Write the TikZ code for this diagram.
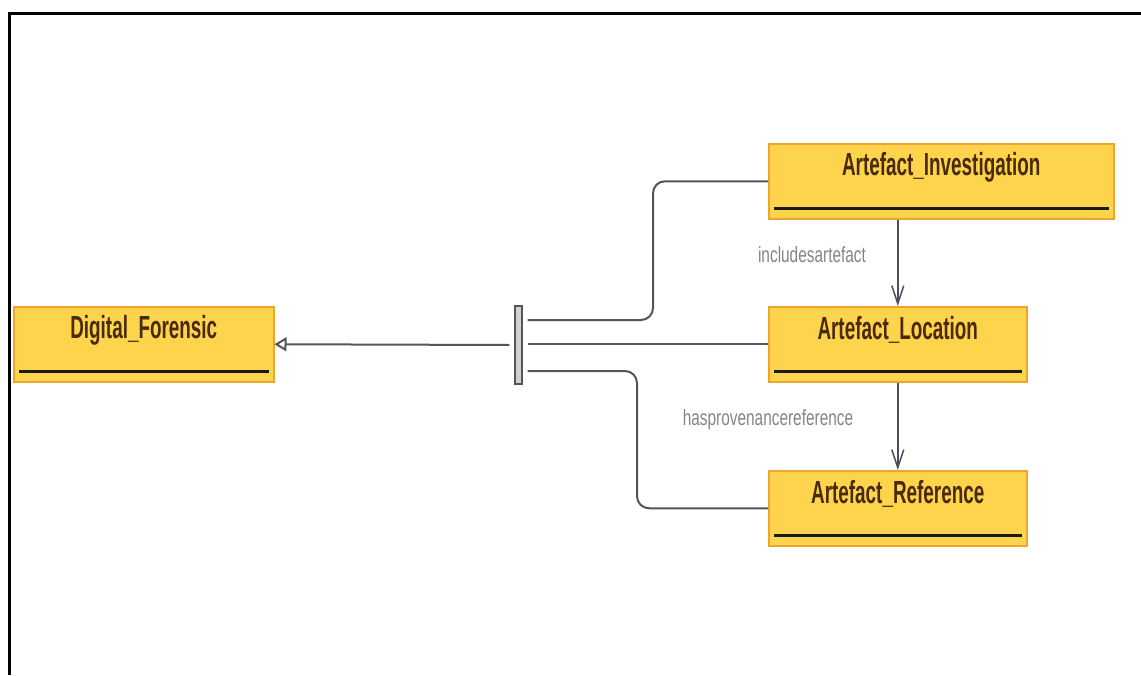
\documentclass[tikz,border=0pt]{standalone}
\usepackage{fontspec}
\usepackage{graphicx}
\setmainfont{Liberation Sans}
\usetikzlibrary{arrows.meta}
\definecolor{boxfill}{HTML}{FDD44C}
\definecolor{boxline}{HTML}{EFA52C}
\definecolor{boxtext}{HTML}{4A2A0C}
\definecolor{connc}{HTML}{555555}
\definecolor{assoc}{HTML}{4A4F5A}
\definecolor{lblc}{HTML}{858585}
\newcommand{\condtext}[2]{\scalebox{#1}[1]{#2}}
\tikzset{
  classbox/.style={draw=boxline, line width=1.5pt, fill=boxfill, minimum height=75pt, inner sep=0pt, anchor=north west},
  classname/.style={text=boxtext, font=\fontsize{32}{32}\selectfont\bfseries, inner sep=0pt, anchor=center},
  underl/.style={black!90, line width=3pt},
  conn/.style={connc, line width=2pt, rounded corners=12pt},
  assocline/.style={assoc, line width=1.5pt, -{Straight Barb[length=18pt,width=12pt]}},
  lbl/.style={text=lblc, font=\fontsize{22}{22}\selectfont, inner sep=0pt},
  forkbar/.style={draw=connc, fill=black!18, line width=1.2pt, minimum width=7pt, minimum height=78pt, inner sep=0pt}
}
\begin{document}
\begin{tikzpicture}[x=1pt,y=-1pt]
\useasboundingbox (0,0) rectangle (1141,675);
\fill[white] (0,0) rectangle (1141,675);
% frame
\draw[black, line width=2.5pt] (1141,13.5) -- (9.5,13.5) -- (9.5,675);

% classes
\node[classbox, minimum width=260pt] (df) at (13,306) {};
\node[classbox, minimum width=345pt] (ai) at (768,143) {};
\node[classbox, minimum width=258pt] (al) at (768,306) {};
\node[classbox, minimum width=258pt] (ar) at (768,470) {};

\node[classname] (dft) at ([yshift=-24pt]df.north) {\condtext{0.59}{Digital\_Forensic}};
\node[classname] (ait) at ([yshift=-24pt]ai.north) {\condtext{0.59}{Artefact\_Investigation}};
\node[classname] (alt) at ([yshift=-24pt]al.north) {\condtext{0.59}{Artefact\_Location}};
\node[classname] (art) at ([yshift=-24pt]ar.north) {\condtext{0.59}{Artefact\_Reference}};

\foreach \n in {df,ai,al,ar}{
  \draw[underl] ([xshift=6pt,yshift=11pt]\n.south west) -- ([xshift=-6pt,yshift=11pt]\n.south east);
}

% generalisation fork
\node[forkbar] (bar) at (518.5,345) {};
\draw[connc, line width=2pt, -{Triangle[open, length=12pt, width=14pt, fill=white]}] ([xshift=-5pt]bar.west) -- (df.east);
\draw[conn] (al.west) -- ([xshift=5pt]bar.east |- al.west);
\draw[conn] ([xshift=5pt,yshift=25pt]bar.east) -| ([xshift=-115pt]ai.west) -- (ai.west);
\draw[conn] ([xshift=5pt,yshift=-26pt]bar.east) -| ([xshift=-131pt]ar.west) -- (ar.west);

% associations
\draw[assocline] (ai.south -| al.north) -- (al.north);
\draw[assocline] (al.south) -- (al.south |- ar.north);
\node[lbl] (l1) at (812,255) {\condtext{0.7}{includesartefact}};
\node[lbl] (l2) at (768,420) {\condtext{0.7}{hasprovenancereference}};
\end{tikzpicture}
\end{document}
